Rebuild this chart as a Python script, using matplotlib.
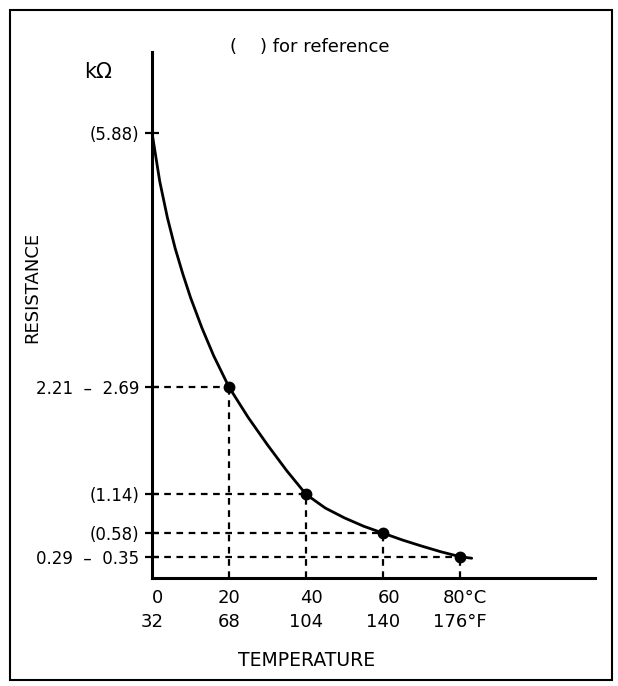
import matplotlib.pyplot as plt
from matplotlib.patches import Rectangle

temp_c = [0, 2, 4, 6, 8, 10, 13, 16, 20, 25, 30, 35, 40,
          45, 50, 55, 60, 65, 70, 75, 80, 83]
res_k = [5.86, 5.22, 4.74, 4.34, 4.00, 3.69, 3.285, 2.925, 2.51, 2.11, 1.75, 1.41, 1.10,
         0.92, 0.79, 0.68, 0.59, 0.50, 0.42, 0.345, 0.28, 0.26]

# marked points
dot_t = [20, 40, 60, 80]
dot_r = [2.51, 1.10, 0.59, 0.28]

ytick_vals = [5.86, 2.51, 1.10, 0.59, 0.28]
ytick_labels = ['(5.88)', '2.21  \u2013  2.69', '(1.14)', '(0.58)', '0.29  \u2013  0.35']
xtick_vals = [0, 20, 40, 60, 80]
xtick_labels = ['0\n32', '20\n68', '40\n104', '60\n140', '80\u00b0C\n176\u00b0F']

plt.rcParams['font.family'] = ['DejaVu Sans']

fig = plt.figure(figsize=(6.18, 6.86), dpi=100)
ax = fig.add_axes([152 / 618, 1 - 578 / 686, 443 / 618, 526 / 686])

ax.plot(temp_c, res_k, color='black', lw=2.0, solid_capstyle='round',
        solid_joinstyle='round')
ax.plot(dot_t, dot_r, 'o', color='black', ms=7.5)

# dotted guide lines
for t, r in zip(dot_t, dot_r):
    ax.plot([0, t], [r, r], color='black', lw=1.6, ls=(0, (3, 2.5)))
    ax.plot([t, t], [0, r], color='black', lw=1.6, ls=(0, (3, 2.5)))

ax.set_xlim(0, 115)
ax.set_ylim(0, 6.92)

for s in ['top', 'right']:
    ax.spines[s].set_visible(False)
for s in ['left', 'bottom']:
    ax.spines[s].set_linewidth(2.2)

ax.set_yticks(ytick_vals)
ax.set_yticklabels(ytick_labels, fontsize=12)
ax.tick_params(axis='y', direction='inout', length=10, width=1.6, pad=4)

ax.set_xticks(xtick_vals)
ax.set_xticklabels(xtick_labels, fontsize=13, linespacing=1.45,
                   multialignment='right')
ax.tick_params(axis='x', length=0, pad=8)

fig.text(98 / 618, 1 - 72 / 686, 'k\u03a9', fontsize=15, ha='center', va='center')
fig.text(230 / 618, 1 - 47 / 686, '(    ) for reference', fontsize=13,
         ha='left', va='center')
fig.text(32 / 618, 1 - 287 / 686, 'RESISTANCE', fontsize=13, rotation=90,
         ha='center', va='center')
fig.text(307 / 618, 1 - 660 / 686, 'TEMPERATURE', fontsize=13.5,
         ha='center', va='center')

# outer frame
fig.patches.append(Rectangle((10 / 618, 1 - 680 / 686), 602 / 618, 670 / 686,
                             transform=fig.transFigure, fill=False,
                             edgecolor='black', lw=1.5))

fig.savefig('out.png', dpi=100)
